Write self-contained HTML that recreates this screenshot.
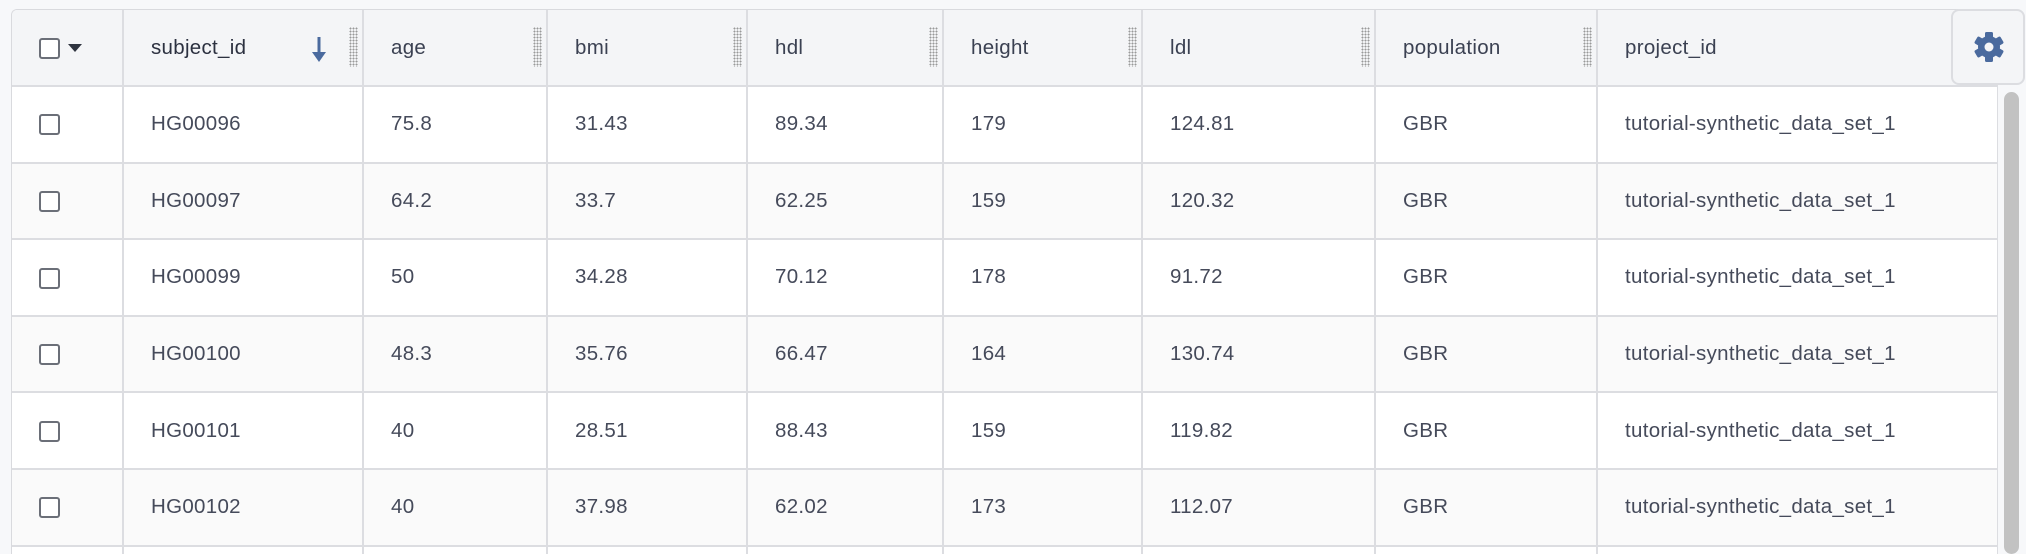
<!DOCTYPE html>
<html><head><meta charset="utf-8">
<style>
*{box-sizing:border-box;margin:0;padding:0}
html,body{width:2026px;height:554px;overflow:hidden}
body{background:#f7f8fa;font-family:"Liberation Sans",sans-serif;color:#3b4152;position:relative}
#wrap{position:absolute;left:11px;top:9px;width:1987px;height:545px;overflow:hidden;border-left:1px solid #d9dade;border-top:1px solid #d9dade;border-radius:6px 0 0 0;background:#fff}
table{border-collapse:collapse;table-layout:fixed;width:1986px}
th,td{border-right:2px solid #dcdde1;border-bottom:2px solid #dcdde1;text-align:left;font-size:20.5px;font-weight:normal;padding-left:27px;white-space:nowrap;position:relative;letter-spacing:0.3px}
th{height:76px;background:#f4f5f7;color:#3b4152}
td{height:76.6px;color:#454a5a}
tr.alt td{background:#fafafa}
.cb{display:inline-block;width:21px;height:21px;border:2px solid #6b6f78;border-radius:3px;background:#fff;vertical-align:middle}
.caret{display:inline-block;width:0;height:0;border-left:7px solid transparent;border-right:7px solid transparent;border-top:8px solid #2f3440;vertical-align:middle;margin-left:8px}
.h{position:absolute;right:4px;top:17px;width:9px;height:40px;background-image:radial-gradient(circle,#999 0.8px,transparent 1.1px);background-size:3px 3px}
#gear{position:absolute;left:1951px;top:9px;width:74px;height:76px;border:2px solid #dcdde1;border-radius:8px;background:#f4f5f7}
#sb{position:absolute;left:2004px;top:92px;width:15px;height:462px;border-radius:8px;background:#c2c2c2}
</style></head><body>
<div id="wrap">
<table>
<colgroup><col style="width:111px"><col style="width:240px"><col style="width:184px"><col style="width:200px"><col style="width:196px"><col style="width:199px"><col style="width:233px"><col style="width:222px"><col style="width:401px"></colgroup>
<thead><tr>
<th style="padding-left:27px"><span class="cb"></span><span class="caret"></span></th>
<th style="color:#2c3140">subject_id<svg style="position:absolute;left:188px;top:27px" width="14" height="26" viewBox="0 0 14 26"><rect x="5.5" y="0" width="3" height="18" fill="#4a6a9e"/><path d="M0 15 L14 15 L7 25Z" fill="#4a6a9e"/></svg><span class="h"></span></th>
<th>age<span class="h"></span></th>
<th>bmi<span class="h"></span></th>
<th>hdl<span class="h"></span></th>
<th>height<span class="h"></span></th>
<th>ldl<span class="h"></span></th>
<th>population<span class="h"></span></th>
<th>project_id</th>
</tr></thead>
<tbody>
<tr><td><span class="cb"></span></td><td>HG00096</td><td>75.8</td><td>31.43</td><td>89.34</td><td>179</td><td>124.81</td><td>GBR</td><td>tutorial-synthetic_data_set_1</td></tr>
<tr class="alt"><td><span class="cb"></span></td><td>HG00097</td><td>64.2</td><td>33.7</td><td>62.25</td><td>159</td><td>120.32</td><td>GBR</td><td>tutorial-synthetic_data_set_1</td></tr>
<tr><td><span class="cb"></span></td><td>HG00099</td><td>50</td><td>34.28</td><td>70.12</td><td>178</td><td>91.72</td><td>GBR</td><td>tutorial-synthetic_data_set_1</td></tr>
<tr class="alt"><td><span class="cb"></span></td><td>HG00100</td><td>48.3</td><td>35.76</td><td>66.47</td><td>164</td><td>130.74</td><td>GBR</td><td>tutorial-synthetic_data_set_1</td></tr>
<tr><td><span class="cb"></span></td><td>HG00101</td><td>40</td><td>28.51</td><td>88.43</td><td>159</td><td>119.82</td><td>GBR</td><td>tutorial-synthetic_data_set_1</td></tr>
<tr class="alt"><td><span class="cb"></span></td><td>HG00102</td><td>40</td><td>37.98</td><td>62.02</td><td>173</td><td>112.07</td><td>GBR</td><td>tutorial-synthetic_data_set_1</td></tr>
<tr><td></td><td></td><td></td><td></td><td></td><td></td><td></td><td></td><td></td></tr>
</tbody></table>
</div>
<div id="gear">
<svg style="position:absolute;left:20px;top:20px" width="32" height="32" viewBox="0 0 32 32"><g fill="#4a6a9e" transform="translate(16 16)"><rect x="-4" y="-15" width="8" height="30" rx="1.5"/><rect x="-4" y="-15" width="8" height="30" rx="1.5" transform="rotate(60)"/><rect x="-4" y="-15" width="8" height="30" rx="1.5" transform="rotate(120)"/><circle r="11"/></g><circle cx="16" cy="16" r="4.5" fill="#f4f5f7"/></svg>
</div>
<div id="sb"></div>
</body></html>
